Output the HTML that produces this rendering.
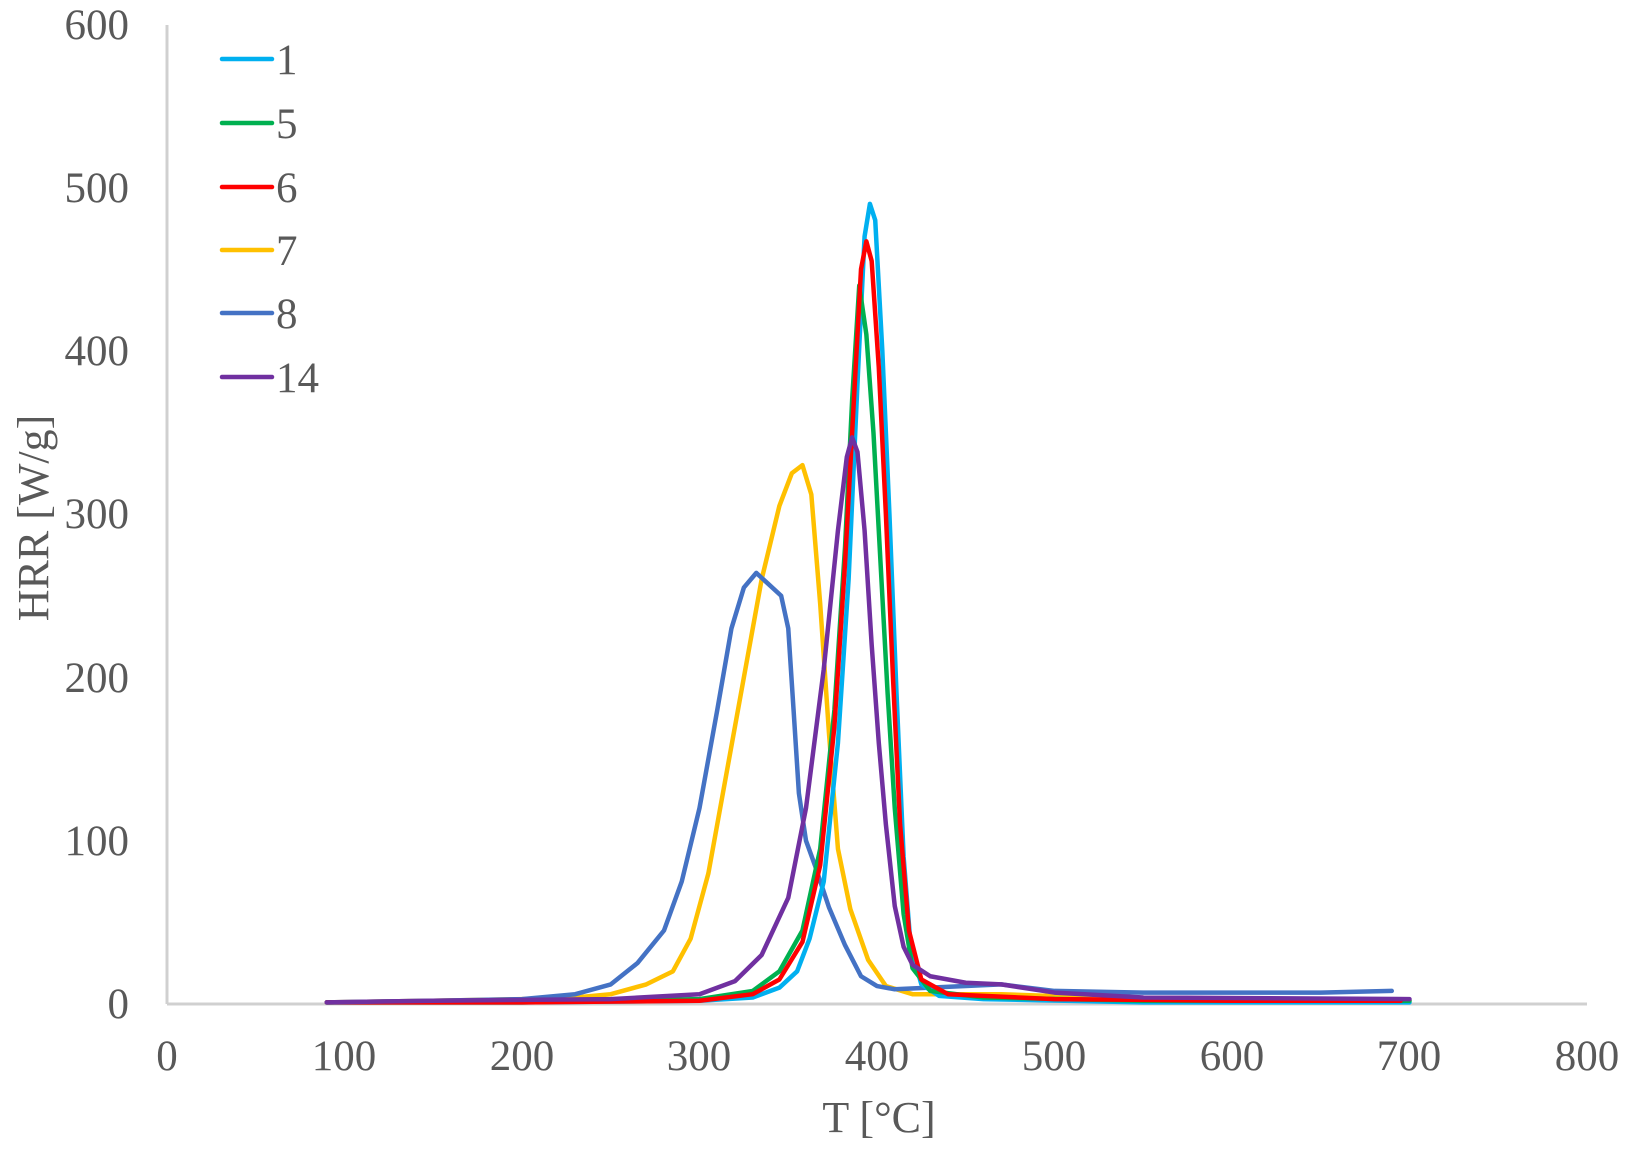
<!DOCTYPE html>
<html><head><meta charset="utf-8"><style>
html,body{margin:0;padding:0;background:#fff;}
svg{display:block;}
text{font-family:"Liberation Serif",serif;fill:#595959;}
</style></head><body>
<svg width="1637" height="1151" viewBox="0 0 1637 1151">
<line x1="167" y1="25" x2="167" y2="1004" stroke="#d0d0d0" stroke-width="3"/>
<line x1="167" y1="1004" x2="1587" y2="1004" stroke="#d0d0d0" stroke-width="3"/>
<g font-size="43" text-anchor="end">
<text x="129" y="1018">0</text>
<text x="129" y="855">100</text>
<text x="129" y="692">200</text>
<text x="129" y="528">300</text>
<text x="129" y="365">400</text>
<text x="129" y="202">500</text>
<text x="129" y="39">600</text>
</g>
<g font-size="43" text-anchor="middle">
<text x="167" y="1070">0</text>
<text x="344" y="1070">100</text>
<text x="522" y="1070">200</text>
<text x="699" y="1070">300</text>
<text x="877" y="1070">400</text>
<text x="1054" y="1070">500</text>
<text x="1232" y="1070">600</text>
<text x="1409" y="1070">700</text>
<text x="1587" y="1070">800</text>
</g>
<text x="879" y="1132" font-size="44" text-anchor="middle">T [°C]</text>
<text transform="translate(48,518) rotate(-90)" font-size="44" text-anchor="middle">HRR [W/g]</text>
<g fill="none" stroke-width="4.5" stroke-linejoin="round" stroke-linecap="round" transform="translate(167,1004) scale(1.775,-1.633)">
<polyline vector-effect="non-scaling-stroke" stroke="#FFC000" points="90,1 150,2 200,3 230,4 250,6 270,12 285,20 295,40 305,80 315,140 325,200 335,260 345,305 352,325 358,330 363,312 368,245 373,165 378,95 385,58 395,27 405,11 420,6 470,6 550,3 700,2"/>
<polyline vector-effect="non-scaling-stroke" stroke="#4472C4" points="90,1 150,2 200,3 230,6 250,12 265,25 280,45 290,75 300,120 310,180 318,230 325,255 332,264 338,258 346,250 350,230 353,180 356,129 360,100 365,85 373,59 382,36 391,17 400,11 410,9 450,11 470,12 500,8 550,7 650,7 690,8"/>
<polyline vector-effect="non-scaling-stroke" stroke="#00B0F0" points="90,1 200,1 300,2 330,4 345,10 355,20 362,40 370,75 378,160 384,260 389,380 393,470 396,490 399,480 403,400 407,300 411,190 415,90 419,35 425,12 435,5 460,3 550,1 700,1"/>
<polyline vector-effect="non-scaling-stroke" stroke="#00B050" points="90,1 200,1 300,3 330,8 345,20 358,45 368,95 376,180 382,280 386,370 390,440 394,410 398,350 402,270 406,190 410,120 415,55 420,22 430,8 460,4 550,2 700,2"/>
<polyline vector-effect="non-scaling-stroke" stroke="#FF0000" points="90,1 200,1 300,2 330,6 345,15 358,38 368,85 376,170 382,270 387,370 391,450 394,467 397,455 401,390 405,300 409,200 413,110 418,45 425,15 440,6 500,3 600,2 695,2"/>
<polyline vector-effect="non-scaling-stroke" stroke="#7030A0" points="90,1 150,2 250,3 300,6 320,14 335,30 350,65 360,120 370,205 378,290 383,335 386,347 389,338 393,290 397,220 401,160 405,110 410,60 415,35 420,24 430,17 450,13 470,12 500,7 550,4 700,3"/>
</g>
<g stroke-width="4.5" stroke-linecap="round">
<line x1="222" y1="59" x2="272" y2="59" stroke="#00B0F0"/>
<line x1="222" y1="123" x2="272" y2="123" stroke="#00B050"/>
<line x1="222" y1="187" x2="272" y2="187" stroke="#FF0000"/>
<line x1="222" y1="250" x2="272" y2="250" stroke="#FFC000"/>
<line x1="222" y1="313" x2="272" y2="313" stroke="#4472C4"/>
<line x1="222" y1="377" x2="272" y2="377" stroke="#7030A0"/>
</g>
<g font-size="43">
<text x="276" y="74">1</text>
<text x="276" y="138">5</text>
<text x="276" y="202">6</text>
<text x="276" y="265">7</text>
<text x="276" y="328">8</text>
<text x="276" y="392">14</text>
</g>
</svg>
</body></html>
